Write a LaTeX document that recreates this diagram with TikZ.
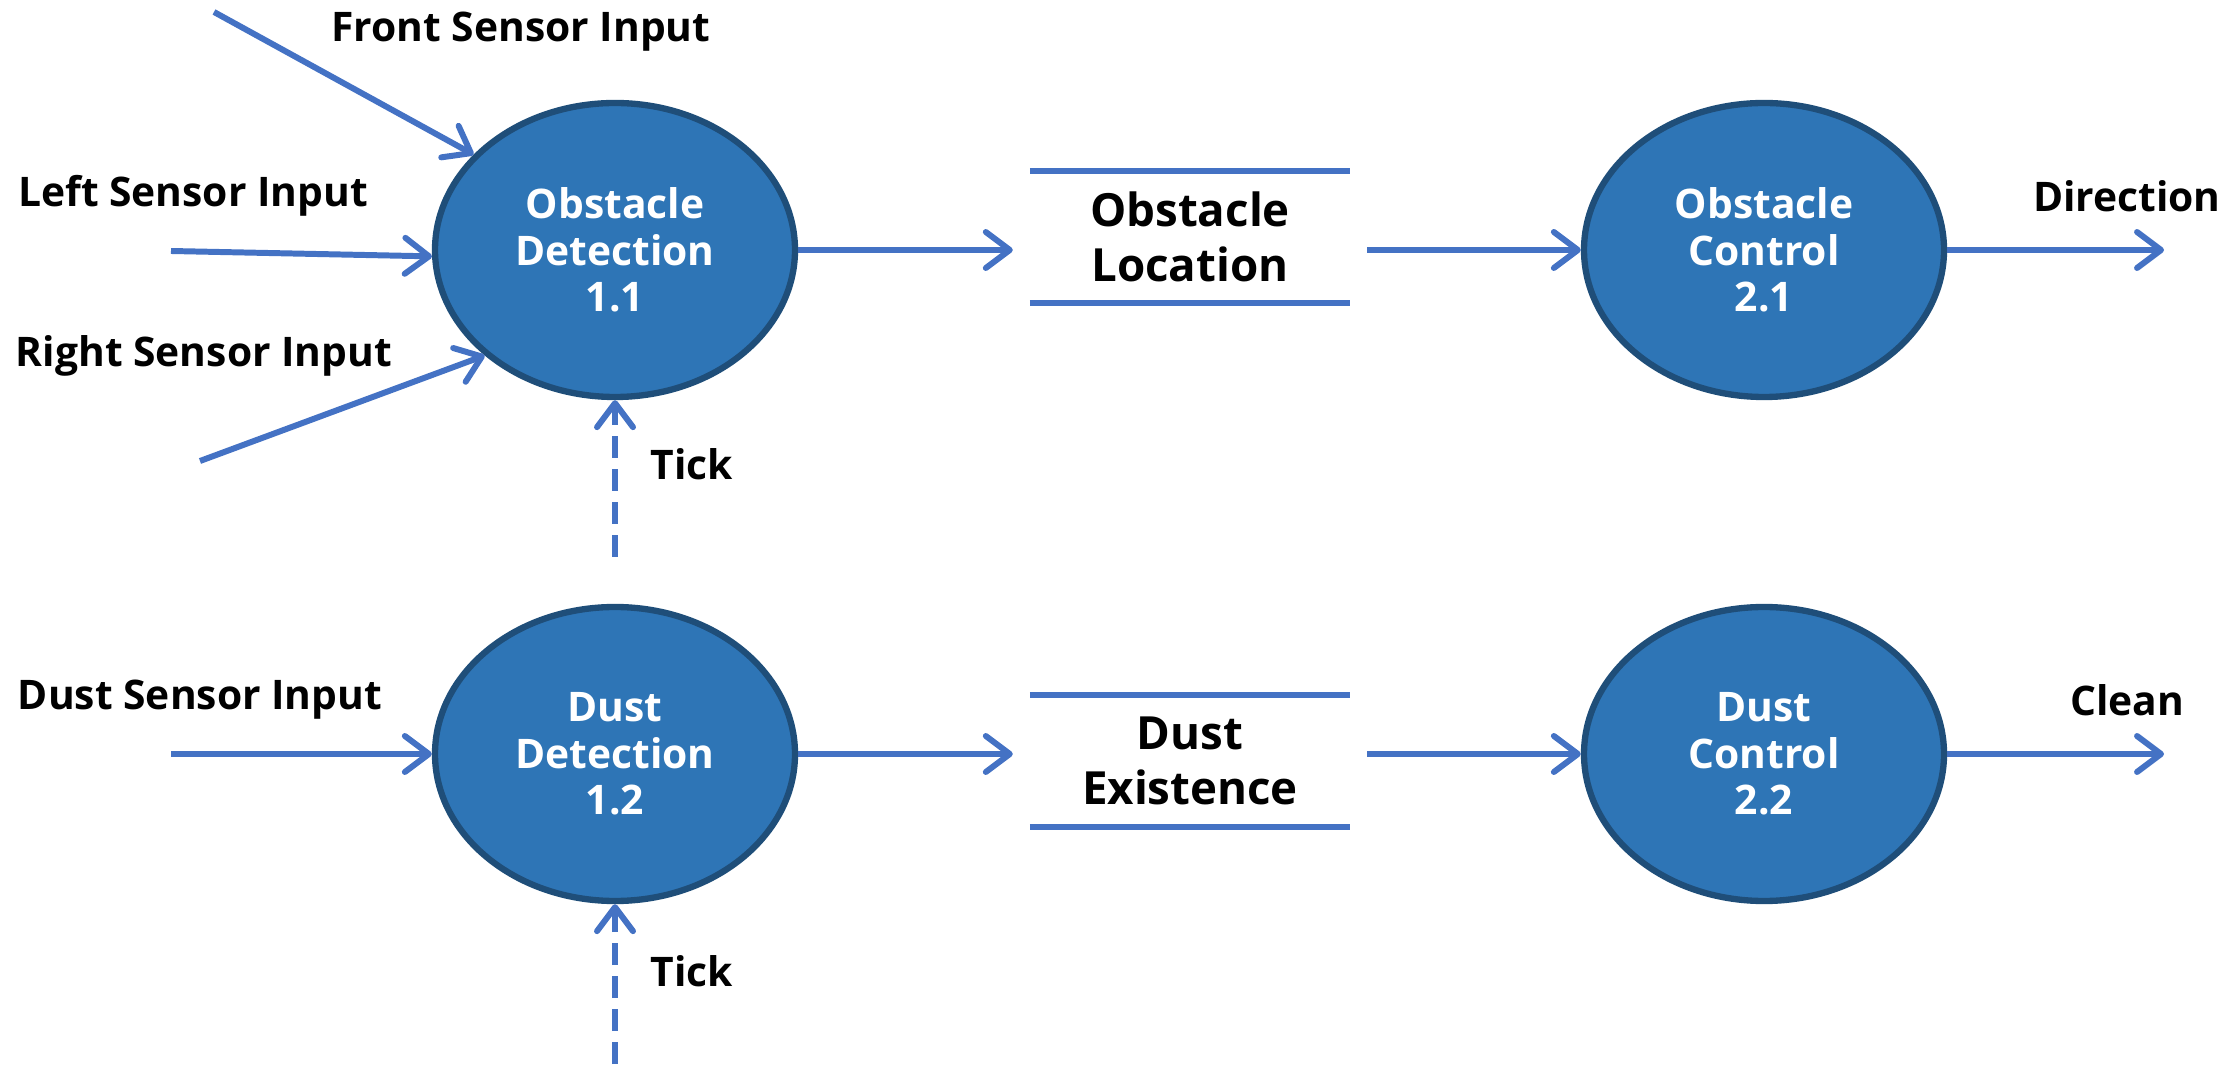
\documentclass[tikz,border=0pt]{standalone}
\usepackage{fontspec}
\setmainfont{Open Sans}
\usetikzlibrary{positioning,arrows.meta,shapes.geometric}
\definecolor{bubblefill}{RGB}{46,117,182}
\definecolor{bubbleedge}{RGB}{31,78,121}
\definecolor{flowblue}{RGB}{68,114,196}

\tikzset{
  process/.style={ellipse,fill=bubblefill,draw=bubbleedge,line width=1.8pt,
    minimum width=3.6cm,minimum height=2.94cm,inner sep=0pt,text=white,
    align=center,font=\bfseries\fontsize{11.6}{13.2}\selectfont},
  datastore/.style={minimum width=3.53cm,minimum height=1.31cm,inner sep=0pt,
    align=center,font=\bfseries\fontsize{13}{15.8}\selectfont},
  storeline/.style={flowblue,line width=1.7pt},
  flow/.style={flowblue,line width=1.7pt,
    -{Straight Barb[length=2.4mm,width=3.6mm,line width=1.7pt,round]}},
  tickflow/.style={flow,dash pattern=on 2.2mm off 1.1mm},
  flowlabel/.style={font=\bfseries\fontsize{11.6}{13.2}\selectfont}
}

\begin{document}
\begin{tikzpicture}
  \useasboundingbox (0,0) rectangle (22.38,10.68);

  % processes
  \node[process] (obsdet) at (6.15,8.18) {Obstacle\\Detection\\1.1};
  \node[process] (obsctl) at (17.64,8.18) {Obstacle\\Control\\2.1};
  \node[process] (dustdet) at (6.15,3.14) {Dust\\Detection\\1.2};
  \node[process] (dustctl) at (17.64,3.14) {Dust\\Control\\2.2};

  % data stores
  \node[datastore] (obsloc) at (11.90,8.31) {Obstacle\\Location};
  \node[datastore] (dustex) at (11.90,3.07) {Dust\\Existence};
  \foreach \s in {obsloc,dustex}{
    \draw[storeline] ([xshift=1.7mm]\s.north west) -- ([xshift=-1.7mm]\s.north east);
    \draw[storeline] ([xshift=1.7mm]\s.south west) -- ([xshift=-1.7mm]\s.south east);
  }

  % free ends
  \coordinate (frontin) at (2.14,10.56);
  \coordinate (leftin) at (1.71,8.17);
  \coordinate (rightin) at (2.00,6.07);
  \coordinate (dustin) at (1.71,3.14);
  \coordinate (tickup) at (6.15,5.11);
  \coordinate (tickdn) at (6.15,0.04);
  \coordinate (dirout) at (21.64,8.18);
  \coordinate (cleanout) at (21.64,3.14);

  % flows
  \draw[flow] (frontin) -- (obsdet.146);
  \draw[flow] (leftin) -- (obsdet.182);
  \draw[flow] (rightin) -- (obsdet.219);
  \draw[tickflow] (tickup) -- (obsdet.south);
  \draw[flow] (obsdet.east) -- (obsdet.east -| obsloc.west);
  \draw[flow] (obsdet.east -| obsloc.east) -- (obsctl.west);
  \draw[flow] (obsctl.east) -- (dirout);

  \draw[flow] (dustin) -- (dustdet.west);
  \draw[tickflow] (tickdn) -- (dustdet.south);
  \draw[flow] (dustdet.east) -- (dustdet.east -| dustex.west);
  \draw[flow] (dustdet.east -| dustex.east) -- (dustctl.west);
  \draw[flow] (dustctl.east) -- (cleanout);

  % labels
  \node[flowlabel] (lfront) at (5.21,10.36) {Front Sensor Input};
  \node[flowlabel] (lleft) at (1.93,8.72) {Left Sensor Input};
  \node[flowlabel] (lright) at (2.04,7.12) {Right Sensor Input};
  \node[flowlabel] (ltick1) at (6.92,6.04) {Tick};
  \node[flowlabel] (ldir) at (21.27,8.72) {Direction};
  \node[flowlabel] (ldust) at (2.00,3.68) {Dust Sensor Input};
  \node[flowlabel] (ltick2) at (6.92,0.97) {Tick};
  \node[flowlabel] (lclean) at (21.27,3.68) {Clean};
\end{tikzpicture}
\end{document}
